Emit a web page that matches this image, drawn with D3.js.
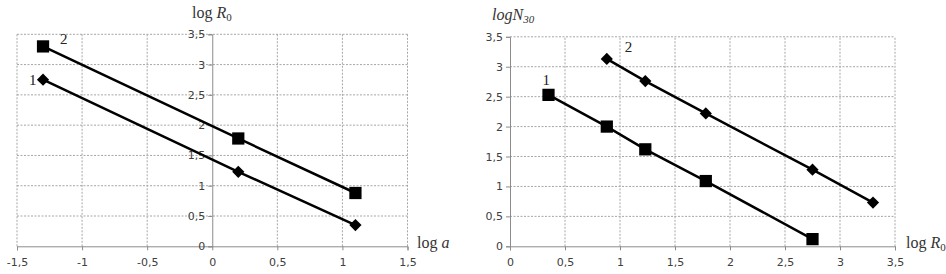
<!DOCTYPE html>
<html>
<head>
<meta charset="utf-8">
<script src="https://cdn.jsdelivr.net/npm/d3@7"></script>
<style>
  body { margin: 0; background: #fff; }
  .tick text { font-family: "DejaVu Sans", sans-serif; font-size: 11px; fill: #404040; }
</style>
</head>
<body>
<svg width="946" height="274"></svg>
<script>
// left chart: log R0 vs log a
const logA = [-1.3, 0.2, 1.1];
const left1 = [2.75, 1.23, 0.35];   // curve 1, diamonds
const left2 = [3.3, 1.78, 0.88];    // curve 2, squares

// right chart: log N30 vs log R0
const r1X = [0.35, 0.88, 1.23, 1.78, 2.75];
const r1Y = [2.53, 2.0, 1.62, 1.09, 0.12];   // curve 1, squares
const r2X = [0.88, 1.23, 1.78, 2.75, 3.3];
const r2Y = [3.13, 2.76, 2.22, 1.28, 0.73];  // curve 2, diamonds

const leftXTicks = [-1.5, -1, -0.5, 0, 0.5, 1, 1.5];
const rightXTicks = [0, 0.5, 1, 1.5, 2, 2.5, 3, 3.5];
const yTicks = [0, 0.5, 1, 1.5, 2, 2.5, 3, 3.5];

const svg = d3.select("svg");
const fmt = d => String(d).replace(".", ",");
const serif = "'Liberation Serif', 'DejaVu Serif', serif";

function drawChart(o) {
  const g = svg.append("g");
  const x = d3.scaleLinear().domain(o.xDomain).range(o.xRange);
  const y = d3.scaleLinear().domain([0, 3.5]).range(o.yRange);

  // grid
  g.selectAll(".gx").data(o.xTicks.filter(d => d !== 0)).enter().append("line")
    .attr("x1", d => x(d)).attr("x2", d => x(d))
    .attr("y1", y(0)).attr("y2", y(3.5))
    .attr("stroke", "#a6a6a6").attr("stroke-dasharray", "2,1.5").attr("stroke-width", 1);
  g.selectAll(".gy").data(yTicks.filter(d => d !== 0)).enter().append("line")
    .attr("x1", x(o.xDomain[0])).attr("x2", x(o.xDomain[1]))
    .attr("y1", d => y(d)).attr("y2", d => y(d))
    .attr("stroke", "#a6a6a6").attr("stroke-dasharray", "2,1.5").attr("stroke-width", 1);

  // axes
  const xa = g.append("g").attr("transform", `translate(0,${y(0)})`)
    .call(d3.axisBottom(x).tickValues(o.xTicks).tickFormat(fmt).tickSize(4).tickPadding(8));
  const ya = g.append("g").attr("transform", `translate(${x(0)},0)`)
    .call(d3.axisLeft(y).tickValues(yTicks).tickFormat(fmt).tickSize(4).tickPadding(3));
  [xa, ya].forEach(a => {
    a.select(".domain").attr("stroke", "#8c8c8c");
    a.selectAll(".tick line").attr("stroke", "#8c8c8c");
  });

  // series
  const line = d3.line().x(d => x(d[0])).y(d => y(d[1]));
  o.series.forEach(s => {
    const pts = s.xs.map((v, i) => [v, s.ys[i]]);
    g.append("path").datum(pts).attr("d", line)
      .attr("fill", "none").attr("stroke", "#000").attr("stroke-width", 2.5);
    const sym = s.marker === "square"
      ? d3.symbol().type(d3.symbolSquare).size(150)
      : d3.symbol().type(d3.symbolDiamond2).size(95);
    g.selectAll(null).data(pts).enter().append("path")
      .attr("d", sym).attr("fill", "#000")
      .attr("transform", d => `translate(${x(d[0])},${y(d[1])})`);
    g.append("text")
      .attr("font-family", serif).attr("font-size", 15).attr("fill", "#222")
      .attr("x", x(pts[0][0]) + s.lab[0]).attr("y", y(pts[0][1]) + s.lab[1])
      .text(s.name);
  });
  return g;
}

drawChart({
  xDomain: [-1.5, 1.5], xRange: [17, 407.5], yRange: [246.3, 34.3], xTicks: leftXTicks,
  series: [
    { name: "1", xs: logA, ys: left1, marker: "diamond", lab: [-14, 5] },
    { name: "2", xs: logA, ys: left2, marker: "square", lab: [17, -2] }
  ]
});
drawChart({
  xDomain: [0, 3.5], xRange: [510, 895], yRange: [246.3, 36.8], xTicks: rightXTicks,
  series: [
    { name: "1", xs: r1X, ys: r1Y, marker: "square", lab: [-6, -10] },
    { name: "2", xs: r2X, ys: r2Y, marker: "diamond", lab: [18, -7] }
  ]
});

// axis titles
function title(xp, yp, parts, italicAll) {
  const t = svg.append("text").attr("x", xp).attr("y", yp)
    .attr("font-family", serif).attr("font-size", 16).attr("fill", "#333");
  if (italicAll) t.attr("font-style", "italic");
  parts.forEach(p => {
    const s = t.append("tspan").text(p.t);
    if (p.i) s.attr("font-style", "italic");
    if (p.sub) s.attr("font-size", 11).attr("dy", 3);
  });
}
title(192, 18, [{ t: "log " }, { t: "R", i: true }, { t: "0", sub: true }]);
title(417, 248, [{ t: "log " }, { t: "a", i: true }]);
title(492, 20, [{ t: "logN" }, { t: "30", sub: true }], true);
title(906, 248, [{ t: "log " }, { t: "R", i: true }, { t: "0", sub: true }]);
</script>
</body>
</html>
